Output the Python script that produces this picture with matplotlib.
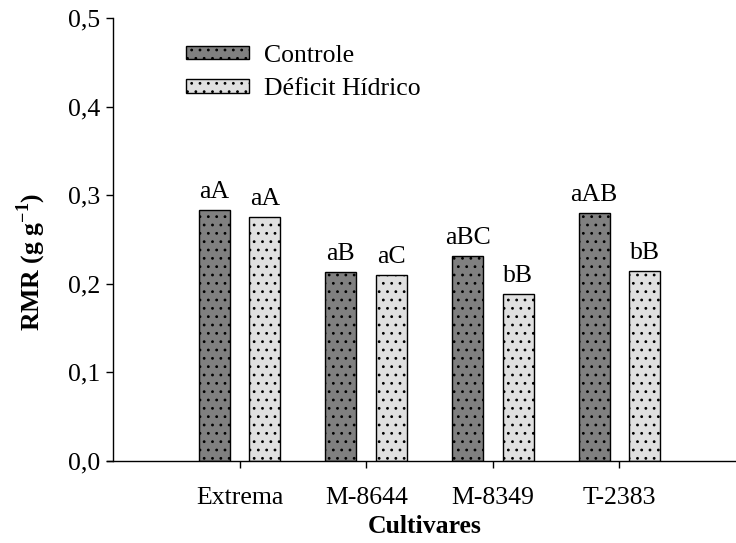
import matplotlib
matplotlib.use("Agg")
import matplotlib.pyplot as plt
import numpy as np

plt.rcParams['font.family'] = ['Liberation Serif', 'DejaVu Serif']
plt.rcParams['mathtext.fontset'] = 'custom'
plt.rcParams['mathtext.rm'] = 'Liberation Serif'
plt.rcParams['mathtext.bf'] = 'Liberation Serif:bold'
plt.rcParams['hatch.linewidth'] = 0.8
plt.rcParams['hatch.color'] = '#202020'

cultivares = ["Extrema", "M-8644", "M-8349", "T-2383"]
controle = [0.283, 0.213, 0.231, 0.280]
deficit = [0.275, 0.210, 0.189, 0.214]
letras_controle = ["aA", "aB", "aBC", "aAB"]
letras_deficit = ["aA", "aC", "bB", "bB"]
series_nomes = ["Controle", "Déficit Hídrico"]

fs = 18.5

fig = plt.figure(figsize=(7.36, 5.43), dpi=100)
ax = fig.add_axes([0.1535, 0.151, 0.8465, 0.816])

x = np.arange(len(cultivares))
w = 0.245
off = 0.2
b1 = ax.bar(x - off, controle, w, color='#808080', edgecolor='black',
            linewidth=1.0, hatch='..', label=series_nomes[0])
b2 = ax.bar(x + off, deficit, w, color='#e0e0e0', edgecolor='black',
            linewidth=1.0, hatch='..', label=series_nomes[1])

for bars, letras in ((b1, letras_controle), (b2, letras_deficit)):
    for rect, txt in zip(bars, letras):
        ax.annotate(txt, (rect.get_x() + rect.get_width() / 2, rect.get_height()),
                    xytext=(0, 5), textcoords='offset points',
                    ha='center', va='bottom', fontsize=fs)

ax.set_xlim(-1.0, 3.92)
ax.set_ylim(0, 0.5)
ax.set_xticks(x)
ax.set_xticklabels(cultivares, fontsize=fs)
ax.set_yticks(np.arange(0, 0.51, 0.1))
ax.set_yticklabels([f"{v:.1f}".replace('.', ',') for v in np.arange(0, 0.51, 0.1)],
                   fontsize=fs)
ax.tick_params(axis='both', direction='out', length=5, width=1.0, pad=4)
ax.tick_params(axis='x', pad=14)

for s in ('top', 'right'):
    ax.spines[s].set_visible(False)
ax.spines['left'].set_linewidth(1.0)
ax.spines['bottom'].set_linewidth(1.0)
ax.spines['bottom'].set_bounds(-1.05, 3.92)

ax.set_xlabel("Cultivares", fontsize=fs, fontweight='bold', labelpad=4)
ax.set_ylabel(r"RMR (g g$^{\mathbf{-1}}$)", fontsize=fs, fontweight='bold')
ax.yaxis.set_label_coords(-0.105, 0.45)

leg = ax.legend(loc='upper left', bbox_to_anchor=(0.1, 0.963), frameon=False,
                fontsize=fs, handlelength=2.45, handleheight=0.45,
                handletextpad=0.6, labelspacing=0.45, borderaxespad=0)

fig.savefig("out.png", dpi=100)
